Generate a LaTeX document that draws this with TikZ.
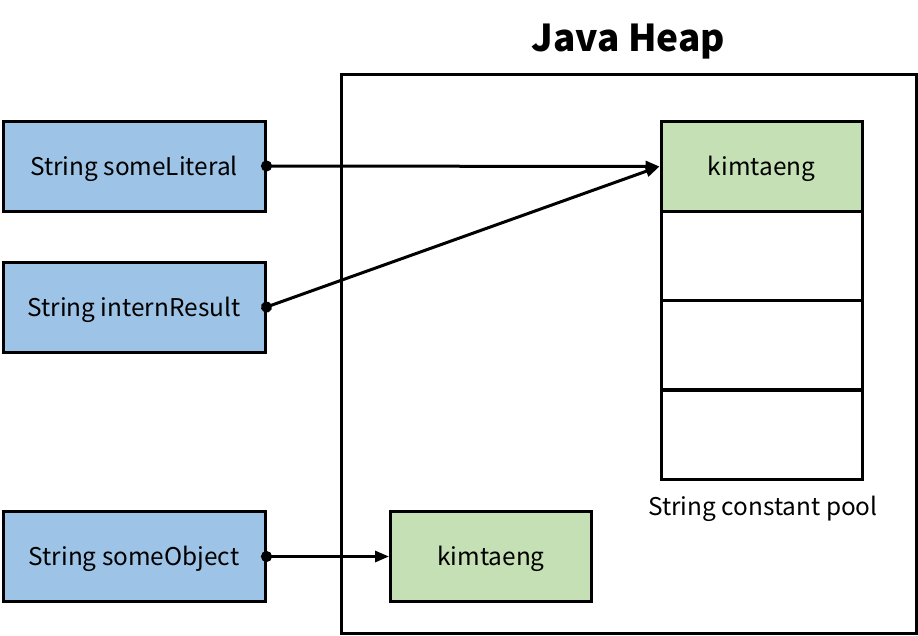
\documentclass[tikz,border=0pt]{standalone}
\usepackage{fontspec}
\setmainfont{Noto Sans CJK KR}
\usetikzlibrary{arrows.meta}
\definecolor{varblue}{HTML}{9DC3E6}
\definecolor{objgreen}{HTML}{C5E0B4}
\begin{document}
\begin{tikzpicture}[x=1pt,y=-1pt,
  frame/.style={draw=black,line width=3pt},
  lbl/.style={font=\fontsize{24.4}{28}\selectfont,text height=20pt,text depth=2pt},
  varbox/.style={frame,lbl,fill=varblue,minimum width=262pt,minimum height=90pt,inner sep=0pt},
  objbox/.style={frame,lbl,fill=objgreen,minimum width=201pt,minimum height=90pt,inner sep=0pt},
  cellbox/.style={frame,fill=white,minimum width=201pt,minimum height=89pt,inner sep=0pt},
  ref/.style={line width=3pt,shorten <=-5.5pt,{Circle[length=11pt]}-{Triangle[length=14pt,width=11pt]}}
]
\useasboundingbox (0,0) rectangle (918,635);
\node[frame,minimum width=575pt,minimum height=559pt,inner sep=0pt] (heap) at (628.5,353.5) {};
\node[font=\bfseries\fontsize{37}{42}\selectfont] (title) at (628.5,42) {Java Heap};
\node[varbox] (lit) at (134,166) {String someLiteral};
\node[varbox] (intern) at (134,307) {String internResult};
\node[varbox] (obj) at (134,556.5) {String someObject};
\node[cellbox] (c2) at (761.5,256) {};
\node[cellbox] (c3) at (761.5,345) {};
\node[cellbox] (c4) at (761.5,435) {};
\node[objbox] (pool) at (761.5,166.5) {kimtaeng};
\node[lbl,inner sep=0pt] (poollabel) at (763,506) {String constant pool};
\node[objbox] (heapobj) at (491,556.5) {kimtaeng};
\draw[ref] (lit.east) -- (pool.west);
\draw[ref] (intern.east) -- (pool.west);
\draw[ref] (obj.east) -- (heapobj.west);
\end{tikzpicture}
\end{document}
